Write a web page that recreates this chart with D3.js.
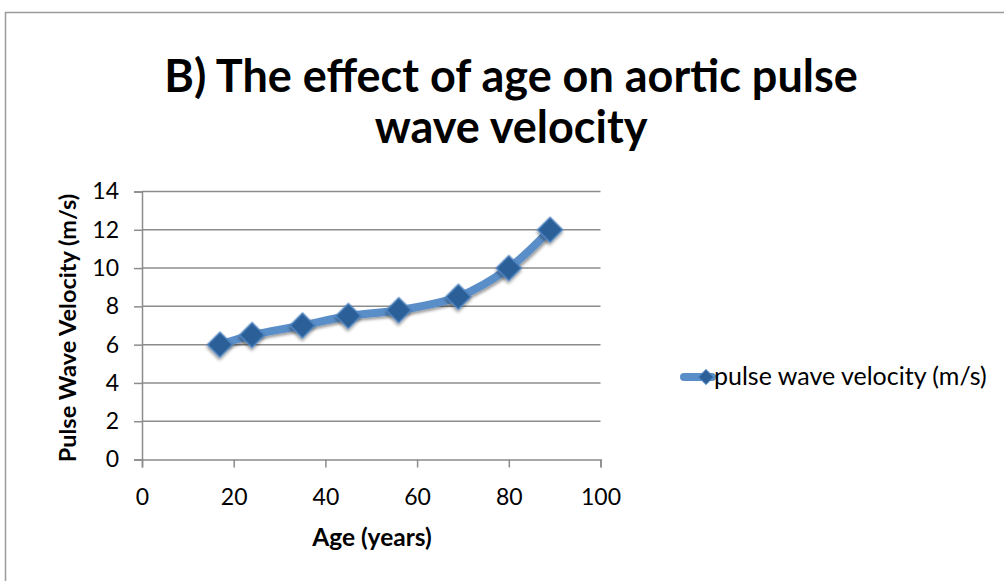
<!DOCTYPE html>
<html><head><meta charset="utf-8">
<script src="https://cdn.jsdelivr.net/npm/d3@7"></script>
<style>body{margin:0;background:#fff}svg{display:block}</style>
</head><body>
<svg id="c" width="1004" height="581"></svg>
<script>
const ages = [17, 24, 35, 45, 56, 69, 80, 89];
const pwv = [6, 6.5, 7, 7.5, 7.8, 8.5, 10, 12];
const xTicks = [0, 20, 40, 60, 80, 100];
const yTicks = [0, 2, 4, 6, 8, 10, 12, 14];
const titleLines = ["B) The effect of age on aortic pulse", "wave velocity"];
const seriesName = "pulse wave velocity (m/s)";
const xTitle = "Age (years)";
const yTitle = "Pulse Wave Velocity (m/s)";

const font = "Lato, 'Open Sans', sans-serif";
const svg = d3.select("#c");
svg.append("rect").attr("x",5.5).attr("y",12.5).attr("width",1010).attr("height",600)
  .attr("fill","#fff").attr("stroke","#9a9a9a").attr("stroke-width",1.5);

const defs = svg.append("defs");
const f = defs.append("filter").attr("id","sh").attr("x","-50%").attr("y","-50%").attr("width","200%").attr("height","200%");
f.append("feDropShadow").attr("dx",1.5).attr("dy",2).attr("stdDeviation",1.8).attr("flood-color","#000").attr("flood-opacity",0.4);

const x = d3.scaleLinear().domain([0,100]).range([142,600.5]);
const y = d3.scaleLinear().domain([0,14]).range([459.5,191.5]);

svg.append("g").selectAll("line").data(yTicks.slice(1)).join("line")
  .attr("x1",x(0)).attr("x2",x(100)).attr("y1",d=>y(d)).attr("y2",d=>y(d))
  .attr("stroke","#8c8c8c").attr("stroke-width",1.5);

const yAxis = svg.append("g").attr("transform",`translate(${x(0)},0)`)
  .call(d3.axisLeft(y).tickValues(yTicks).tickSize(8).tickPadding(15));
const xAxis = svg.append("g").attr("transform",`translate(0,${y(0)})`)
  .call(d3.axisBottom(x).tickValues(xTicks).tickSize(8));
[yAxis,xAxis].forEach(a=>{
  a.select(".domain").attr("stroke","#8c8c8c").attr("stroke-width",1.5);
  a.selectAll(".tick line").attr("stroke","#8c8c8c").attr("stroke-width",1.5);
  a.selectAll("text").attr("font-family",font).attr("font-size",23).attr("fill","#000");
});
xAxis.selectAll(".tick text").attr("y",45).attr("dy",0);

const pts = ages.map((a,i)=>[x(a),y(pwv[i])]);
svg.append("path").attr("d",d3.line().curve(d3.curveCatmullRom.alpha(0.5))(pts))
  .attr("fill","none").attr("stroke","#5a8ec8").attr("stroke-width",8).attr("stroke-linecap","round")
  .attr("filter","url(#sh)");

svg.append("g").selectAll("path").data(pts).join("path")
  .attr("d",d3.symbol().type(d3.symbolSquare).size(300)).attr("transform",d=>`translate(${d[0]},${d[1]}) rotate(45)`)
  .attr("fill","#2b5f97").attr("stroke","#4a80bd").attr("stroke-width",1.5).attr("filter","url(#sh)");

svg.append("g").selectAll("text").data(titleLines).join("text")
  .attr("x",511).attr("y",(d,i)=>92+i*51).attr("text-anchor","middle")
  .attr("font-family",font).attr("font-weight",700).attr("font-size",45).attr("fill","#000").text(d=>d);

svg.append("text").attr("x",372).attr("y",546).attr("text-anchor","middle")
  .attr("font-family",font).attr("font-weight",700).attr("font-size",24.5).text(xTitle);
svg.append("text").attr("transform","translate(76,328) rotate(-90)").attr("text-anchor","middle")
  .attr("font-family",font).attr("font-weight",700).attr("font-size",23.5).text(yTitle);

const lg = svg.append("g").attr("transform","translate(0,377)");
lg.append("line").attr("x1",684).attr("x2",712).attr("y1",0).attr("y2",0)
  .attr("stroke","#5a8ec8").attr("stroke-width",8).attr("stroke-linecap","round");
lg.append("path").attr("d",d3.symbol().type(d3.symbolSquare).size(110)).attr("transform","translate(706,0) rotate(45)")
  .attr("fill","#2b5f97").attr("stroke","#4a80bd").attr("stroke-width",1);
lg.append("text").attr("x",714).attr("y",8).attr("font-family",font).attr("font-size",25).text(seriesName);
</script>
</body></html>
